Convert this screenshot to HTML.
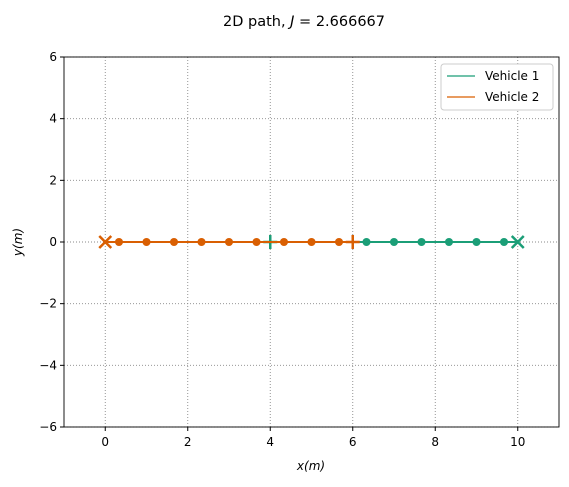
<!DOCTYPE html>
<html><head><meta charset="utf-8"><style>
body{margin:0;background:#fff;}
svg text{font-family:"DejaVu Sans","Liberation Sans",sans-serif;}
</style></head><body>
<svg id="chart" width="569" height="482" xmlns="http://www.w3.org/2000/svg">
<text x="304" y="26" font-size="14.5" text-anchor="middle">2D path, <tspan font-style="italic">J</tspan> = 2.666667</text>
<g id="grid"></g>
<g id="series"></g>
<rect x="64" y="57" width="495" height="370" fill="none" stroke="#000" stroke-width="0.9"/>
<g id="ticks"></g>
<text x="311" y="470" font-size="12" text-anchor="middle" font-style="italic">x(m)</text>
<text transform="translate(22,242) rotate(-90)" font-size="12" text-anchor="middle" font-style="italic">y(m)</text>
<g>
<rect x="441" y="64" width="112" height="46" rx="3" fill="#fff" stroke="#ccc"/>
<line x1="447" y1="76" x2="475" y2="76" stroke="#1b9e77" stroke-width="1.2"/>
<text x="485" y="80" font-size="12">Vehicle 1</text>
<line x1="447" y1="97" x2="475" y2="97" stroke="#d95f02" stroke-width="1.2"/>
<text x="485" y="101" font-size="12">Vehicle 2</text>
</g>
</svg>
<script>
const xTicks=[0,2,4,6,8,10];
const yTicks=[-6,-4,-2,0,2,4,6];
const v1x=[4,6.333,7,7.667,8.333,9,9.667,10];
const v1y=[0,0,0,0,0,0,0,0];
const v2x=[6,5.667,5,4.333,3.667,3,2.333,1.667,1,0.333,0];
const v2y=[0,0,0,0,0,0,0,0,0,0,0];
const NS="http://www.w3.org/2000/svg";
function sx(v){return 64+(v+1)/12*495;}
function sy(v){return 427-(v+6)/12*370;}
function mk(t,a,p){const e=document.createElementNS(NS,t);for(const k in a)e.setAttribute(k,a[k]);p.appendChild(e);return e;}
const grid=document.getElementById('grid'),ticks=document.getElementById('ticks'),ser=document.getElementById('series');
xTicks.forEach(v=>{const x=sx(v);
const g=mk('line',{x1:x,x2:x,y1:57,y2:427,stroke:'#888','stroke-dasharray':'1,2','stroke-width':0.9},grid);

mk('line',{x1:x,x2:x,y1:427,y2:431,stroke:'#000'},ticks);
const t=mk('text',{x:x,y:446,'font-size':12,'text-anchor':'middle'},ticks);t.textContent=String(v);
});
yTicks.forEach(v=>{const y=sy(v);
const g=mk('line',{x1:64,x2:559,y1:y,y2:y,stroke:'#888','stroke-dasharray':'1,2','stroke-width':0.9},grid);

mk('line',{x1:60,x2:64,y1:y,y2:y,stroke:'#000'},ticks);
const t=mk('text',{x:57,y:y+4,'font-size':12,'text-anchor':'end'},ticks);t.textContent=(v<0?'\u2212'+(-v):String(v));
});
function drawSeries(xs,ys,color,name){
const g=mk('g',{},ser);
const pts=xs.map((x,i)=>sx(x)+','+sy(ys[i])).join(' ');
mk('polyline',{points:pts,fill:'none',stroke:color,'stroke-width':2},g);
for(let i=1;i<xs.length-1;i++){const c=mk('circle',{cx:sx(xs[i]),cy:sy(ys[i]),r:4,fill:color},g);
}
const x0=sx(xs[0]),y0=sy(ys[0]);
const s=mk('path',{d:`M${x0-7} ${y0}H${x0+7}M${x0} ${y0-7}V${y0+7}`,stroke:color,'stroke-width':2.5},g);

const n=xs.length-1,x1=sx(xs[n]),y1=sy(ys[n]);
const e=mk('path',{d:`M${x1-6} ${y1-6}L${x1+6} ${y1+6}M${x1-6} ${y1+6}L${x1+6} ${y1-6}`,stroke:color,'stroke-width':2.5},g);
}
drawSeries(v1x,v1y,'#1b9e77','vehicle-1-path');
drawSeries(v2x,v2y,'#d95f02','vehicle-2-path');
</script>
</body></html>
